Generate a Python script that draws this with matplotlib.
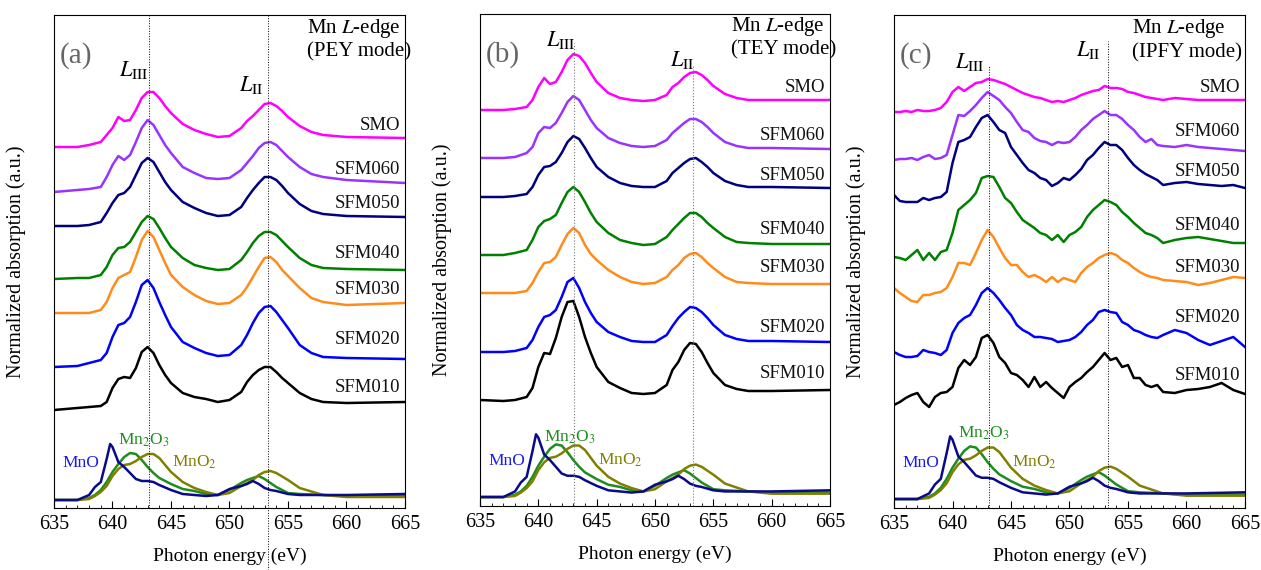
import matplotlib
matplotlib.use("Agg")
from matplotlib import pyplot as plt
from matplotlib.ticker import MultipleLocator

plt.rcParams["font.family"] = ["Liberation Serif", "DejaVu Serif"]
plt.rcParams["mathtext.fontset"] = "stix"

# sample names / colours (top to bottom)
samples = ["SMO", "SFM060", "SFM050", "SFM040", "SFM030", "SFM020", "SFM010"]
colors = ["#ff00ff", "#9933ff", "#000080", "#008000", "#ff8c1a", "#0000ff", "#000000"]

# energy grid for PEY / TEY curves (eV)
energy = [635, 637, 638, 639, 639.5, 640, 640.5, 641, 641.5, 642,
          642.5, 643, 643.5, 644, 644.5, 645, 646, 647, 648, 649,
          650, 651, 651.5, 652, 652.5, 653, 653.5, 654, 654.5, 655,
          656, 657, 658, 660, 665]

# (a) PEY mode, normalized absorption + offset (a.u.)
pey_smo = [361, 361, 363, 366, 373, 380, 391, 387, 388, 398, 410, 416, 416, 410, 402, 395, 384, 378, 374, 371,
           372, 380, 387, 392, 398, 404, 405, 402, 397, 391, 382, 376, 373, 371, 370]
pey_060 = [316, 318, 319, 321, 331, 343, 352, 348, 353, 366, 380, 388, 383, 373, 363, 355, 341, 335, 330, 329,
           330, 338, 345, 352, 360, 365, 366, 363, 357, 351, 341, 334, 331, 328, 325]
pey_050 = [282, 282, 283, 286, 295, 305, 313, 315, 321, 333, 345, 350, 346, 336, 326, 318, 306, 300, 295, 292,
           293, 301, 310, 318, 325, 331, 331, 328, 322, 315, 304, 297, 294, 292, 291]
pey_040 = [229, 230, 230, 233, 241, 253, 260, 261, 266, 276, 286, 292, 289, 280, 270, 261, 250, 243, 240, 238,
           239, 248, 256, 265, 272, 276, 276, 273, 267, 261, 250, 243, 240, 239, 238]
pey_030 = [195, 195, 195, 198, 206, 220, 230, 233, 236, 251, 268, 277, 271, 258, 245, 233, 221, 213, 207, 204,
           205, 213, 221, 231, 241, 250, 251, 246, 238, 232, 220, 210, 206, 203, 205]
pey_020 = [141, 142, 145, 148, 155, 171, 183, 185, 191, 206, 223, 228, 220, 206, 193, 181, 166, 160, 155, 152,
           153, 163, 173, 185, 195, 201, 202, 196, 188, 180, 163, 155, 151, 150, 149]
pey_010 = [98, 100, 101, 102, 106, 120, 129, 131, 130, 140, 156, 161, 155, 143, 133, 125, 115, 111, 109, 106,
           108, 116, 126, 133, 138, 141, 141, 136, 130, 125, 115, 109, 106, 105, 106]

# (b) TEY mode
tey_smo = [396, 396, 397, 399, 406, 419, 428, 422, 424, 434, 446, 452, 450, 443, 433, 424, 413, 408, 406, 405,
           406, 411, 419, 423, 429, 433, 434, 431, 426, 420, 412, 408, 406, 406, 406]
tey_060 = [348, 348, 349, 353, 359, 373, 379, 378, 383, 393, 404, 410, 406, 396, 386, 378, 368, 363, 360, 359,
           360, 366, 373, 378, 383, 387, 387, 384, 379, 373, 364, 360, 358, 358, 357]
tey_050 = [309, 309, 310, 312, 319, 331, 339, 340, 344, 353, 364, 370, 367, 358, 348, 339, 329, 323, 320, 319,
           319, 325, 333, 338, 343, 347, 348, 344, 339, 333, 325, 321, 319, 319, 318]
tey_040 = [251, 251, 253, 256, 266, 279, 285, 287, 291, 303, 314, 319, 314, 304, 293, 284, 273, 266, 263, 261,
           262, 269, 276, 282, 288, 293, 293, 289, 283, 278, 269, 264, 263, 262, 262]
tey_030 = [213, 213, 213, 215, 223, 234, 243, 244, 249, 261, 272, 278, 273, 261, 252, 246, 236, 229, 224, 222,
           223, 229, 236, 241, 248, 252, 253, 249, 243, 238, 229, 224, 223, 222, 222]
tey_020 = [154, 154, 155, 158, 166, 179, 189, 191, 196, 209, 224, 228, 218, 204, 193, 184, 174, 169, 165, 164,
           164, 171, 180, 188, 194, 199, 198, 194, 188, 181, 171, 167, 165, 165, 164]
tey_010 = [106, 105, 106, 109, 118, 139, 153, 152, 168, 189, 204, 205, 189, 169, 153, 139, 124, 118, 113, 112,
           113, 121, 136, 144, 156, 163, 162, 154, 143, 133, 121, 117, 115, 115, 116]

# (c) IPFY mode, finer energy grid (noisy data)
energy_fy = [635, 635.5, 636, 636.5, 637, 637.5, 638, 638.5, 639, 639.5,
             640, 640.5, 641, 641.5, 642, 642.5, 643, 643.5, 644, 644.5,
             645, 645.5, 646, 646.5, 647, 647.5, 648, 648.5, 649, 649.5,
             650, 650.5, 651, 651.5, 652, 652.5, 653, 653.5, 654, 654.5,
             655, 655.5, 656, 656.5, 657, 657.5, 658,
             659, 660, 661, 662, 663, 664, 665]
fy_smo = [396, 396, 397, 396, 398, 397, 397, 398, 400, 406, 416, 421, 417, 421, 425, 426, 429, 428, 426, 424,
          421, 418, 415, 413, 411, 410, 408, 406, 407, 406, 408, 410, 413, 415, 417, 418, 422, 420, 420, 419,
          416, 415, 413, 411, 410, 409, 408, 410, 409, 408, 408, 408, 408, 408]
fy_060 = [348, 349, 349, 350, 348, 351, 353, 349, 350, 353, 373, 393, 392, 397, 403, 410, 416, 412, 408, 401,
          395, 386, 378, 376, 370, 367, 366, 363, 366, 365, 366, 371, 378, 383, 389, 393, 397, 393, 393, 389,
          383, 378, 371, 366, 369, 363, 362, 361, 363, 361, 360, 359, 358, 357]
fy_050 = [313, 307, 306, 306, 306, 310, 308, 310, 311, 316, 345, 366, 368, 371, 381, 390, 393, 386, 378, 375,
          361, 353, 345, 338, 335, 330, 328, 322, 325, 330, 328, 333, 339, 348, 353, 360, 366, 363, 363, 358,
          350, 343, 338, 334, 331, 328, 323, 325, 326, 324, 323, 322, 323, 320]
fy_040 = [251, 250, 248, 253, 258, 248, 255, 248, 256, 258, 275, 298, 303, 308, 315, 330, 332, 331, 321, 310,
          305, 296, 288, 284, 280, 275, 273, 268, 273, 266, 273, 276, 281, 291, 298, 303, 308, 306, 303, 296,
          291, 285, 280, 275, 273, 270, 265, 268, 270, 271, 269, 267, 265, 265]
fy_030 = [220, 215, 211, 207, 206, 213, 213, 215, 216, 220, 231, 245, 245, 243, 255, 268, 278, 271, 260, 250,
          243, 243, 236, 231, 233, 230, 226, 231, 226, 230, 228, 226, 235, 241, 245, 250, 253, 255, 253, 248,
          245, 240, 236, 233, 231, 230, 228, 227, 226, 223, 225, 228, 231, 230]
fy_020 = [156, 153, 151, 151, 152, 158, 156, 155, 153, 158, 175, 185, 190, 193, 203, 215, 220, 215, 208, 200,
          193, 183, 178, 175, 171, 171, 170, 169, 166, 167, 168, 171, 176, 183, 188, 196, 198, 196, 195, 186,
          183, 178, 176, 173, 171, 170, 173, 178, 175, 168, 163, 167, 171, 161]
fy_010 = [103, 106, 110, 113, 115, 106, 101, 111, 115, 116, 121, 140, 148, 143, 151, 170, 173, 165, 151, 145,
          135, 133, 128, 121, 131, 121, 126, 120, 115, 110, 121, 126, 130, 136, 141, 148, 155, 148, 150, 141,
          143, 130, 130, 123, 121, 123, 116, 115, 118, 119, 121, 125, 118, 114]

# reference spectra (same in all panels)
energy_ref = [635, 637, 638, 638.5, 639, 639.5, 639.8, 640, 640.5, 641, 641.5, 642, 642.5, 643, 643.5, 644,
              645, 646, 647, 648, 649, 650, 651, 651.5, 652, 652.5, 653, 653.5, 654, 655, 656, 658, 660, 665]
ref_mno = [8, 8, 13, 21, 26, 49, 64, 61, 46, 41, 35, 29, 27, 27, 26, 23,
           18, 14, 13, 12, 13, 19, 22, 24, 27, 24, 20, 18, 17, 14, 13, 13, 13, 14]
ref_mn2o3 = [8, 8, 10, 13, 18, 26, 32, 36, 44, 51, 55, 54, 48, 41, 35, 30,
             24, 19, 17, 14, 13, 18, 25, 28, 30, 32, 29, 25, 21, 15, 14, 13, 12, 12]
ref_mno2 = [8, 8, 9, 12, 16, 22, 28, 32, 39, 43, 44, 47, 51, 54, 54, 50,
            36, 26, 20, 16, 13, 15, 22, 25, 28, 33, 36, 37, 35, 28, 20, 13, 11, 11]

pey = [pey_smo, pey_060, pey_050, pey_040, pey_030, pey_020, pey_010]
tey = [tey_smo, tey_060, tey_050, tey_040, tey_030, tey_020, tey_010]
ipfy = [fy_smo, fy_060, fy_050, fy_040, fy_030, fy_020, fy_010]

label_y = {"a": [383, 338, 304, 254, 218, 168, 120],
           "b": [419, 370, 330, 276, 239, 179, 132],
           "c": [421, 376, 336, 283, 240, 190, 133]}

fig = plt.figure(figsize=(12.61, 5.70), dpi=100)
ax_a = fig.add_axes([54 / 1261, 62 / 570, 351 / 1261, 493 / 570])
ax_b = fig.add_axes([480 / 1261, 64 / 570, 350 / 1261, 492 / 570])
ax_c = fig.add_axes([894 / 1261, 62 / 570, 351 / 1261, 493 / 570])

panels = [
    (ax_a, "a", "PEY", energy, pey, 493, 1.0, 68),
    (ax_b, "b", "TEY", energy, tey, 492, 1.12, 69),
    (ax_c, "c", "IPFY", energy_fy, ipfy, 493, 1.12, 75),
]

for ax, tag, mode, en, curves, top, rs, mn2o3_y in panels:
    # reference oxides
    ax.plot(energy_ref, [v * rs for v in ref_mn2o3], color="#1e8c1e", lw=1.8)
    ax.plot(energy_ref, [v * rs for v in ref_mno2], color="#808000", lw=1.8)
    ax.plot(energy_ref, [v * rs for v in ref_mno], color="#0a0a8a", lw=1.8)
    ax.text(637.3, 45, "MnO", color="#1a1aee", fontsize=12.5, ha="center", va="center")
    ax.text(642.7, mn2o3_y, "Mn$_2$O$_3$", color="#1e8c1e", fontsize=12.5, ha="center", va="center")
    ax.text(647.0, 46, "MnO$_2$", color="#808000", fontsize=12.5, ha="center", va="center")

    for y, c, name, ly in zip(curves, colors, samples, label_y[tag]):
        ax.plot(en, y, color=c, lw=1.8)
        ax.text(664.6, ly, name, fontsize=13.5, ha="right", va="center", color="#111111")

    ax.text(635.5, top - 41, "(%s)" % tag, fontsize=21, color="#666666", ha="left", va="center")
    ax.set_xlim(635, 665)
    ax.set_ylim(0, top)
    ax.set_yticks([])
    ax.xaxis.set_major_locator(MultipleLocator(5))
    ax.xaxis.set_minor_locator(MultipleLocator(1))
    ax.tick_params(axis="x", which="both", direction="in", labelsize=14.5, pad=5)
    ax.tick_params(axis="x", which="major", length=5)
    ax.tick_params(axis="x", which="minor", length=2.5)
    ax.set_xlabel("Photon energy (eV)", fontsize=14, labelpad=10)
    ax.set_ylabel("Normalized absorption (a.u.)", fontsize=14.5)
    ax.yaxis.set_label_coords(-0.08, 0.5)

# headers
ax_a.text(656.6, 480, "Mn $L$-edge", fontsize=15, ha="left", va="center")
ax_a.text(656.6, 456, "(PEY mode)", fontsize=15, ha="left", va="center")
ax_b.text(656.5, 479, "Mn $L$-edge", fontsize=15, ha="left", va="center")
ax_b.text(656.5, 456, "(TEY mode)", fontsize=15, ha="left", va="center")
ax_c.text(655.3, 479, "Mn $L$-edge", fontsize=15, ha="left", va="center")
ax_c.text(655.3, 455, "(IPFY mode)", fontsize=15, ha="left", va="center")

# L3 / L2 edge markers
ax_a.text(641.8, 438, r"$L_{\rm III}$", fontsize=16, ha="center", va="center")
ax_a.text(651.9, 423, r"$L_{\rm II}$", fontsize=16, ha="center", va="center")
ax_a.plot([643.1, 643.1], [0, 493], color="k", lw=0.7, ls=":")
ax_a.plot([653.3, 653.3], [-62, 493], color="k", lw=0.7, ls=":", clip_on=False)

ax_b.text(641.9, 466, r"$L_{\rm III}$", fontsize=16, ha="center", va="center")
ax_b.text(652.3, 446, r"$L_{\rm II}$", fontsize=16, ha="center", va="center")
ax_b.plot([643.1, 643.1], [0, 463], color="#777777", lw=0.8, ls=":")
ax_b.plot([653.3, 653.3], [0, 441], color="#777777", lw=0.8, ls=":")

ax_c.text(641.5, 446, r"$L_{\rm III}$", fontsize=16, ha="center", va="center")
ax_c.text(651.6, 458, r"$L_{\rm II}$", fontsize=16, ha="center", va="center")
ax_c.plot([643.1, 643.1], [0, 443], color="k", lw=0.7, ls=":")
ax_c.plot([653.3, 653.3], [0, 467], color="k", lw=0.7, ls=":")

plt.savefig("out.png", dpi=100)
